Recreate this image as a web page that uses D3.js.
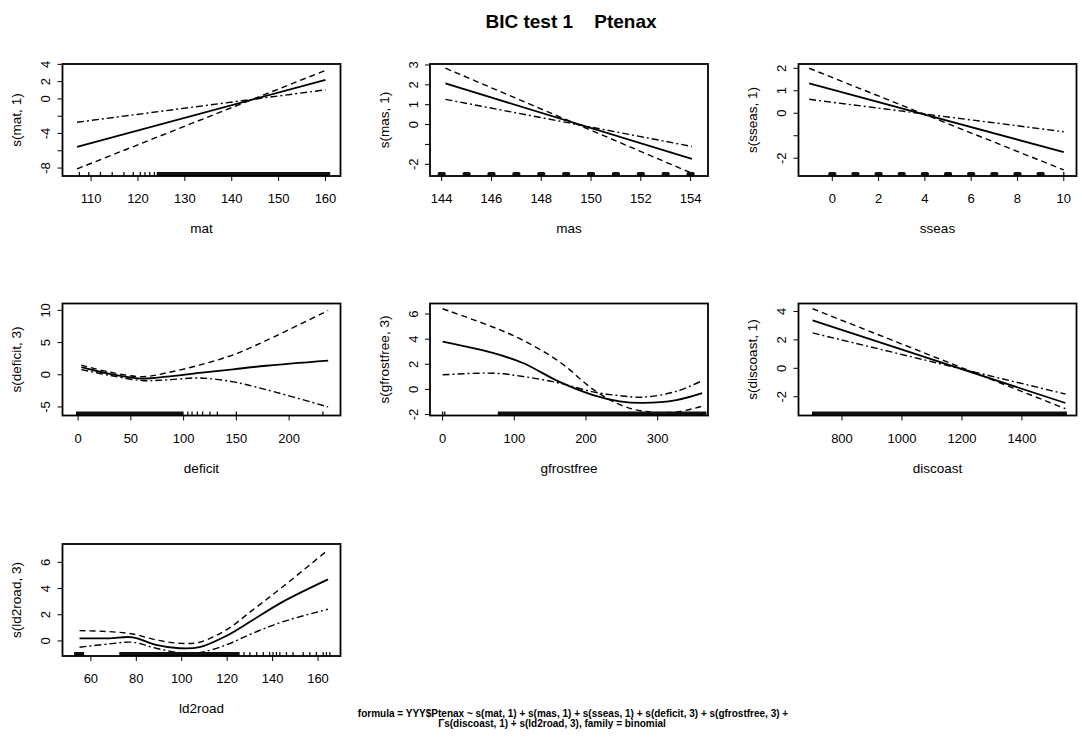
<!DOCTYPE html>
<html>
<head>
<meta charset="utf-8">
<script src="https://cdn.jsdelivr.net/npm/d3@7"></script>
<style>
  body { margin: 0; background: #fff; }
  svg { display: block; font-family: "Liberation Sans", Arial, sans-serif; }
  .tick-lab { font-size: 13px; }
  .axis-lab { font-size: 13.5px; }
</style>
</head>
<body>
<div id="chart"></div>
<script>
// ---- values ----
let matX = [107, 160]
let matFit = [-5.55, 2.2]
let matSeA = [-8.1, 3.3]
let matSeB = [-2.7, 1.05]
let matRugTicks = [107.5, 109.5, 112, 114.5, 117, 119, 120.5, 121.5, 122.5, 123.5]
let matRugBands = [[124, 161]]

let masX = [144.15, 154.05]
let masFit = [2.07, -1.73]
let masSeA = [2.84, -2.45]
let masSeB = [1.27, -1.1]
let masRugBlobs = [144, 145, 146, 147, 148, 149, 150, 151, 152, 153, 154]

let sseasX = [-1, 10]
let sseasFit = [1.33, -1.73]
let sseasSeA = [2.0, -2.52]
let sseasSeB = [0.62, -0.82]
let sseasRugBlobs = [0, 1, 2, 3, 4, 5, 6, 7, 8, 9]
let sseasRugTicks = [10]

let deficitX = [3, 30, 61, 84, 115, 147, 178, 237]
let deficitFit = [1.2, 0.15, -0.6, -0.3, 0.3, 0.85, 1.4, 2.2]
let deficitSeA = [1.5, 0.4, -0.3, 0.3, 1.5, 3.1, 5.3, 10.0]
let deficitSeB = [0.8, -0.1, -0.9, -0.8, -0.5, -1.1, -2.3, -5.0]
let deficitRugTicks = [104, 108, 113, 118, 125, 132, 150, 232]
let deficitRugBands = [[-2, 100]]

let gfrostX = [0, 70, 112, 163, 210, 247, 280, 326, 362]
let gfrostFit = [3.8, 2.9, 2.1, 0.6, -0.45, -0.95, -1.07, -0.85, -0.3]
let gfrostSeA = [6.42, 4.97, 3.92, 2.2, 0.0, -1.21, -1.74, -1.8, -1.34]
let gfrostSeB = [1.16, 1.29, 1.03, 0.5, -0.2, -0.5, -0.62, -0.16, 0.69]
let gfrostRugTicks = [0, 3]
let gfrostRugBands = [[77, 368]]

let discoastX = [702, 1545]
let discoastFit = [3.37, -2.44]
let discoastSeA = [4.19, -2.84]
let discoastSeB = [2.49, -1.81]
let discoastRugBands = [[700, 1550]]

let ld2roadX = [55, 68, 78.4, 88.7, 99, 107.8, 119.6, 131.3, 144.6, 164.4]
let ld2roadFit = [0.2, 0.2, 0.28, -0.3, -0.56, -0.48, 0.38, 1.6, 3.0, 4.7]
let ld2roadSeA = [0.79, 0.71, 0.53, 0.08, -0.18, -0.1, 0.84, 2.37, 4.15, 6.95]
let ld2roadSeB = [-0.48, -0.23, -0.1, -0.56, -0.89, -0.89, -0.3, 0.59, 1.47, 2.42]
let ld2roadRugTicks = [127.4, 130, 133, 135.9, 138.7, 140.2, 141.7, 143.2, 146.1, 149, 153.5, 156.4, 159.3, 162.3, 163.7, 165.2]
let ld2roadRugBands = [[52.6, 57], [72.5, 125.5]]

let titleText = "BIC test 1    Ptenax"
let formulaLines = [
    "formula = YYY$Ptenax ~ s(mat, 1) + s(mas, 1) + s(sseas, 1) + s(deficit, 3) + s(gfrostfree, 3) +",
    "\u0393s(discoast, 1) + s(ld2road, 3), family = binomial"
]

let panels = [
    { col: 0, row: 0, xlab: "mat", ylab: "s(mat, 1)", xDom: [103.9, 163.2], yDom: [-8.92, 4.04],
      xTicks: [110, 120, 130, 140, 150, 160], yTicks: [-8, -6, -4, -2, 0, 2, 4], yShow: [-8, -4, 0, 2, 4],
      x: matX, fit: matFit, seA: matSeA, seB: matSeB, rugTicks: matRugTicks, rugBlobs: [], rugBands: matRugBands, smooth: false },
    { col: 1, row: 0, xlab: "mas", ylab: "s(mas, 1)", xDom: [143.53, 154.7], yDom: [-2.59, 3.05],
      xTicks: [144, 146, 148, 150, 152, 154], yTicks: [-2, -1, 0, 1, 2, 3], yShow: [-2, 0, 1, 2, 3],
      x: masX, fit: masFit, seA: masSeA, seB: masSeB, rugTicks: [], rugBlobs: masRugBlobs, rugBands: [], smooth: false },
    { col: 2, row: 0, xlab: "sseas", ylab: "s(sseas, 1)", xDom: [-1.46, 10.55], yDom: [-2.79, 2.19],
      xTicks: [0, 2, 4, 6, 8, 10], yTicks: [-2, -1, 0, 1, 2], yShow: [-2, 0, 1, 2],
      x: sseasX, fit: sseasFit, seA: sseasSeA, seB: sseasSeB, rugTicks: sseasRugTicks, rugBlobs: sseasRugBlobs, rugBands: [], smooth: false },
    { col: 0, row: 1, xlab: "deficit", ylab: "s(deficit, 3)", xDom: [-14.8, 248.7], yDom: [-6.33, 11.07],
      xTicks: [0, 50, 100, 150, 200], yTicks: [-5, 0, 5, 10], yShow: [-5, 0, 5, 10],
      x: deficitX, fit: deficitFit, seA: deficitSeA, seB: deficitSeB, rugTicks: deficitRugTicks, rugBlobs: [], rugBands: deficitRugBands, smooth: true },
    { col: 1, row: 1, xlab: "gfrostfree", ylab: "s(gfrostfree, 3)", xDom: [-17.6, 370.2], yDom: [-2.08, 6.84],
      xTicks: [0, 100, 200, 300], yTicks: [-2, 0, 2, 4, 6], yShow: [-2, 0, 2, 4, 6],
      x: gfrostX, fit: gfrostFit, seA: gfrostSeA, seB: gfrostSeB, rugTicks: gfrostRugTicks, rugBlobs: [], rugBands: gfrostRugBands, smooth: true },
    { col: 2, row: 1, xlab: "discoast", ylab: "s(discoast, 1)", xDom: [655, 1582], yDom: [-3.32, 4.56],
      xTicks: [800, 1000, 1200, 1400], yTicks: [-2, 0, 2, 4], yShow: [-2, 0, 2, 4],
      x: discoastX, fit: discoastFit, seA: discoastSeA, seB: discoastSeB, rugTicks: [], rugBlobs: [], rugBands: discoastRugBands, smooth: false },
    { col: 0, row: 2, xlab: "ld2road", ylab: "s(ld2road, 3)", xDom: [47.5, 169.9], yDom: [-1.15, 7.4],
      xTicks: [60, 80, 100, 120, 140, 160], yTicks: [0, 2, 4, 6], yShow: [0, 2, 4, 6],
      x: ld2roadX, fit: ld2roadFit, seA: ld2roadSeA, seB: ld2roadSeB, rugTicks: ld2roadRugTicks, rugBlobs: [], rugBands: ld2roadRugBands, smooth: true }
]

// ---- layout ----
let width = 1082, height = 740
let colLefts = [62.5, 430, 798.5]
let rowTops = [64, 303.5, 544]
let boxW = 278, boxH = 112

let svg = d3.select('#chart')
    .append('svg')
    .attr('width', width)
    .attr('height', height)

svg.append('text')
    .text(titleText)
    .attr('x', 571)
    .attr('y', 28)
    .attr('text-anchor', 'middle')
    .attr('font-size', '19px')
    .attr('font-weight', 'bold')
    .style('white-space', 'pre')

panels.forEach(p => drawPanel(p))

// formula note at the foot, second line starts a little left of centre
let formulaX = [573, 552]
svg.selectAll('.formula')
    .data(formulaLines)
    .enter()
    .append('text')
    .attr('class', 'formula')
    .text(d => d)
    .attr('x', (d, i) => formulaX[i])
    .attr('y', (d, i) => 717 + i * 9.5)
    .attr('text-anchor', 'middle')
    .attr('font-size', '10px')
    .attr('font-weight', 'bold')

function drawPanel(p) {
    let left = colLefts[p.col]
    let top = rowTops[p.row]

    let xScale = d3.scaleLinear().domain(p.xDom).range([left, left + boxW])
    let yScale = d3.scaleLinear().domain(p.yDom).range([top + boxH, top])

    let g = svg.append('g').attr('class', 'panel')

    // curves
    let line = d3.line()
        .x(d => xScale(d[0]))
        .y(d => yScale(d[1]))
        .curve(p.smooth ? d3.curveCatmullRom : d3.curveLinear)

    let series = [
        { vals: p.seA, dash: '6,4', w: 1.4 },
        { vals: p.seB, dash: '7,3,2,3', w: 1.4 },
        { vals: p.fit, dash: null, w: 1.8 }
    ]
    series.forEach(s => {
        g.append('path')
            .datum(p.x.map((x, i) => [x, s.vals[i]]))
            .attr('d', line)
            .attr('fill', 'none')
            .attr('stroke', '#000')
            .attr('stroke-width', s.w)
            .attr('stroke-dasharray', s.dash)
    })

    // rug
    let yb = top + boxH
    g.selectAll('.rug-band')
        .data(p.rugBands)
        .enter()
        .append('rect')
        .attr('x', d => xScale(d[0]))
        .attr('width', d => xScale(d[1]) - xScale(d[0]))
        .attr('y', yb - 4)
        .attr('height', 4)
        .attr('fill', '#111')
    g.selectAll('.rug-tick')
        .data(p.rugTicks)
        .enter()
        .append('line')
        .attr('x1', d => xScale(d))
        .attr('x2', d => xScale(d))
        .attr('y1', yb)
        .attr('y2', yb - 4)
        .attr('stroke', '#111')
        .attr('stroke-width', 1.3)
    g.selectAll('.rug-blob')
        .data(p.rugBlobs)
        .enter()
        .append('rect')
        .attr('x', d => xScale(d) - 4)
        .attr('width', 8)
        .attr('y', yb - 4)
        .attr('height', 4)
        .attr('rx', 1.5)
        .attr('fill', '#111')

    // frame
    g.append('rect')
        .attr('x', left)
        .attr('y', top)
        .attr('width', boxW)
        .attr('height', boxH)
        .attr('fill', 'none')
        .attr('stroke', '#000')
        .attr('stroke-width', 1.8)

    // x axis
    g.selectAll('.xtick')
        .data(p.xTicks)
        .enter()
        .append('line')
        .attr('x1', d => xScale(d))
        .attr('x2', d => xScale(d))
        .attr('y1', yb)
        .attr('y2', yb + 5)
        .attr('stroke', '#000')
    g.selectAll('.xlab')
        .data(p.xTicks)
        .enter()
        .append('text')
        .attr('class', 'tick-lab')
        .text(d => d)
        .attr('x', d => xScale(d))
        .attr('y', yb + 27)
        .attr('text-anchor', 'middle')

    // y axis
    g.selectAll('.ytick')
        .data(p.yTicks)
        .enter()
        .append('line')
        .attr('x1', left)
        .attr('x2', left - 5)
        .attr('y1', d => yScale(d))
        .attr('y2', d => yScale(d))
        .attr('stroke', '#000')
    g.selectAll('.ylab')
        .data(p.yShow)
        .enter()
        .append('text')
        .attr('class', 'tick-lab')
        .text(d => d)
        .attr('transform', d => `translate(${left - 17}, ${yScale(d)}) rotate(-90)`)
        .attr('dy', '0.35em')
        .attr('text-anchor', 'middle')

    // axis titles
    g.append('text')
        .attr('class', 'axis-lab')
        .text(p.xlab)
        .attr('x', left + boxW / 2)
        .attr('y', yb + 57)
        .attr('text-anchor', 'middle')
    g.append('text')
        .attr('class', 'axis-lab')
        .text(p.ylab)
        .attr('transform', `translate(${left - 46}, ${top + boxH / 2}) rotate(-90)`)
        .attr('dy', '0.35em')
        .attr('text-anchor', 'middle')
}
</script>
</body>
</html>
